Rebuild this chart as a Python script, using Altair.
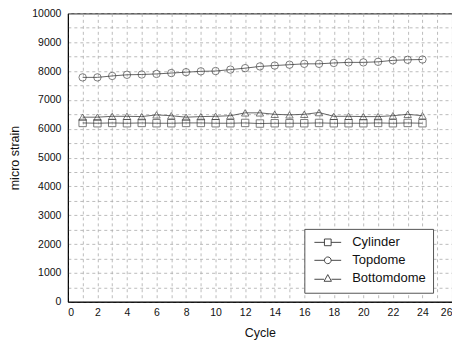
import altair as alt
import pandas as pd

cycles = list(range(1, 25))
series_names = ["Cylinder", "Topdome", "Bottomdome"]
cylinder = [6200, 6190, 6200, 6190, 6200, 6190, 6190, 6200, 6200, 6190, 6190, 6200,
            6180, 6190, 6190, 6190, 6200, 6190, 6190, 6190, 6200, 6190, 6200, 6190]
topdome = [7780, 7780, 7830, 7870, 7880, 7900, 7930, 7960, 7990, 8000, 8050, 8100,
           8160, 8190, 8220, 8250, 8250, 8280, 8300, 8300, 8320, 8370, 8390, 8400]
bottomdome = [6400, 6400, 6430, 6430, 6420, 6480, 6450, 6400, 6420, 6430, 6450, 6550,
              6550, 6500, 6480, 6500, 6560, 6430, 6430, 6420, 6420, 6450, 6500, 6450]

rows = []
for name, vals in zip(series_names, [cylinder, topdome, bottomdome]):
    for c, v in zip(cycles, vals):
        rows.append({"Cycle": c, "value": v, "series": name})
df = pd.DataFrame(rows)

FONT = "Liberation Sans"

x_axis = alt.Axis(
    values=list(range(0, 27)),
    labelExpr="datum.value % 2 == 0 ? datum.label : ''",
    grid=True, gridDash=[3, 3], gridColor="#ababab", gridWidth=0.8,
    tickSize=0, labelPadding=6, labelFontSize=10.5, labelFont=FONT, labelColor="#111",
    title="Cycle", titleFontSize=12.5, titleFont=FONT, titleFontWeight="normal",
    titlePadding=8, titleColor="#111", domainColor="black",
)
y_axis = alt.Axis(
    values=list(range(0, 10001, 500)),
    labelExpr="datum.value % 1000 == 0 ? datum.label : ''",
    format="d",
    grid=True, gridDash=[3, 3], gridColor="#ababab", gridWidth=0.8,
    tickSize=0, labelPadding=7, labelFontSize=10.5, labelFont=FONT, labelColor="#111",
    title="micro strain", titleFontSize=12.5, titleFont=FONT, titleFontWeight="normal",
    titlePadding=10, titleColor="#111", domainColor="black",
)

# legend glyphs: marker with line segments on both sides
sq = "M-4,0H-1M1,0H4M-1,-1H1V1H-1Z"
ci = "M-4,0H-1M1,0H4M-1,0A1,1,0,1,0,1,0A1,1,0,1,0,-1,0"
tr = "M-4,0.3H-1.1M1.1,0.3H4M0,-1.1L1.1,0.9H-1.1Z"

base = alt.Chart(df).encode(
    x=alt.X("Cycle:Q", scale=alt.Scale(domain=[0, 26], nice=False), axis=x_axis),
    y=alt.Y("value:Q", scale=alt.Scale(domain=[0, 10000], nice=False), axis=y_axis),
)

lines = base.mark_line(stroke="#555", strokeWidth=0.9).encode(detail="series:N")
points = base.mark_point(filled=False, color="#333", size=55, strokeWidth=0.9).encode(
    shape=alt.Shape(
        "series:N",
        scale=alt.Scale(domain=series_names, range=["square", "circle", "triangle-up"]),
        legend=None,
    )
)
legend_layer = base.transform_filter("false").mark_point(
    filled=False, color="#333", size=45, strokeWidth=0.9
).encode(
    shape=alt.Shape(
        "series:N",
        scale=alt.Scale(domain=series_names, range=[sq, ci, tr]),
        legend=alt.Legend(
            title=None, orient="none", legendX=237, legendY=216,
            strokeColor="#555", fillColor="white", padding=7,
            labelFontSize=13, labelFont=FONT, labelColor="#111",
            symbolSize=45, symbolStrokeColor="#333", symbolOpacity=1,
            symbolStrokeWidth=0.9, rowPadding=4, labelOffset=18, symbolOffset=10,
        ),
    )
)

chart = (lines + points + legend_layer).resolve_scale(shape="independent").properties(
    width=385, height=289,
    autosize=alt.AutoSizeParams(type="none"),
    padding={"left": 60, "top": 5, "right": 0, "bottom": 45},
).configure_view(stroke="black", strokeWidth=1)

chart.save("out.html", embed_options={"renderer": "svg", "actions": False})
